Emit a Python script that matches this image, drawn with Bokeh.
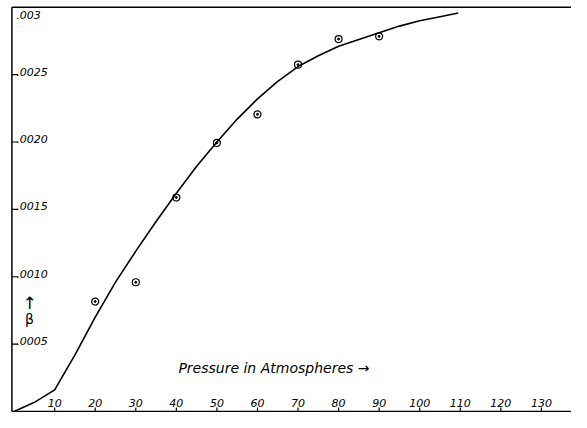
from bokeh.plotting import figure
from bokeh.embed import file_html
from bokeh.resources import INLINE
from bokeh.core.properties import value

# Measured points (pressure in atm, beta)
obs_p = [20, 30, 40, 50, 60, 70, 80, 90]
obs_b = [0.000816, 0.000959, 0.001588, 0.001993, 0.002205, 0.002574, 0.002764, 0.002784]

# Smooth curve
curve_p = [0, 5, 10, 15, 20, 25, 30, 35, 40, 45, 50, 55, 60, 65, 70, 75, 80, 85, 90, 95, 100, 105, 109.5]
curve_b = [0.0, 0.000068, 0.00016, 0.00042, 0.00070, 0.00096, 0.00119, 0.00141, 0.00162, 0.00182,
           0.00200, 0.00217, 0.00232, 0.00245, 0.00256, 0.00264, 0.00271, 0.00276, 0.00281,
           0.00286, 0.00290, 0.00293, 0.002957]

x_ticks = [10, 20, 30, 40, 50, 60, 70, 80, 90, 100, 110, 120, 130]
x_tick_labels = ["10", "20", "30", "40", "50", "60", "70", "80", "90", "100", "110", "120", "130"]
y_ticks = [0.0005, 0.0010, 0.0015, 0.0020, 0.0025]
y_tick_labels = [".0005", ".0010", ".0015", ".0020", ".0025"]
y_top = 0.003
y_top_label = ".003"
x_title = "Pressure in Atmospheres \u2192"
y_title = "\u03b2"

font = value("DejaVu Sans")
axis_x = -0.55

p = figure(width=571, height=412, x_range=(-3.358, 137.42), y_range=(-0.0000074, 0.00305),
           output_backend="svg", toolbar_location=None, min_border=0)
p.axis.visible = False
p.grid.visible = False
p.outline_line_color = None
p.background_fill_color = "white"

# frame lines: left axis, bottom axis, top border
p.segment(x0=[axis_x, axis_x, axis_x], y0=[0, 0, y_top], x1=[axis_x, 140, 140], y1=[y_top, 0, y_top],
          line_color="black", line_width=1.5)

# y ticks
p.segment(x0=[axis_x] * len(y_ticks), y0=y_ticks, x1=[1.0] * len(y_ticks), y1=y_ticks,
          line_color="black", line_width=1.2)
p.text(x=[0.5] * len(y_ticks), y=y_ticks, text=y_tick_labels, text_font=font,
       text_font_style="italic", text_font_size="11px", text_baseline="bottom", text_align="left",
       y_offset=1)
p.text(x=[0.5], y=[y_top], text=[y_top_label], text_font=font, text_font_style="italic",
       text_font_size="11px", text_baseline="top", text_align="left", y_offset=4)

# x ticks
p.segment(x0=x_ticks, y0=[0] * len(x_ticks), x1=x_ticks, y1=[0.00003] * len(x_ticks),
          line_color="black", line_width=1.2)
p.text(x=x_ticks, y=[0] * len(x_ticks), text=x_tick_labels, text_font=font,
       text_font_style="italic", text_font_size="11px", text_baseline="bottom", text_align="center",
       y_offset=-5)

# titles
p.text(x=[40.5], y=[0.00032], text=[x_title], text_font=font, text_font_style="italic",
       text_font_size="14px", text_baseline="middle", text_align="left")
p.text(x=[3.8], y=[0.000807], text=["\u2191"], text_font=font, text_font_size="17px",
       text_baseline="middle", text_align="center")
p.text(x=[3.8], y=[0.000686], text=[y_title], text_font=font, text_font_size="14px",
       text_baseline="middle", text_align="center")

# curve
p.line(curve_p, curve_b, line_color="black", line_width=1.6, line_join="round")

# observed points
p.scatter(obs_p, obs_b, marker="circle", size=7, fill_color=None, line_color="black", line_width=1.2)
p.scatter(obs_p, obs_b, marker="circle", size=2, fill_color="black", line_color="black")

open("out.html", "w").write(file_html(p, INLINE))
